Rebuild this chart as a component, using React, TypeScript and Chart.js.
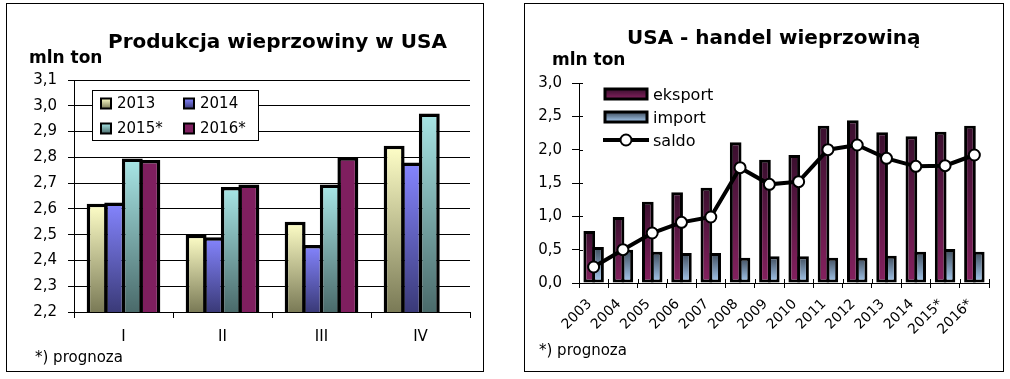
import React, { useEffect, useRef } from "react";
import { Chart, registerables } from "chart.js";
Chart.register(...registerables);

const FONT = "'DejaVu Sans', Tahoma, Verdana, sans-serif";

// ---- Left chart: Produkcja wieprzowiny w USA ----
const quarters = ["I", "II", "III", "IV"];
const prodSeriesLabels = ["2013", "2014", "2015*", "2016*"];
const prod2013 = [2.62, 2.5, 2.55, 2.845];
const prod2014 = [2.625, 2.49, 2.46, 2.78];
const prod2015 = [2.795, 2.685, 2.695, 2.97];
const prod2016: (number | null)[] = [2.79, 2.695, 2.8, null];
const prodTicks = [2.2, 2.3, 2.4, 2.5, 2.6, 2.7, 2.8, 2.9, 3.0, 3.1];

// ---- Right chart: USA - handel wieprzowiną ----
const years = ["2003", "2004", "2005", "2006", "2007", "2008", "2009", "2010", "2011", "2012", "2013", "2014", "2015*", "2016*"];
const tradeSeriesLabels = ["eksport", "import", "saldo"];
const eksport = [0.78, 0.99, 1.22, 1.36, 1.43, 2.11, 1.85, 1.92, 2.36, 2.44, 2.26, 2.2, 2.27, 2.36];
const importV = [0.54, 0.5, 0.47, 0.45, 0.45, 0.38, 0.4, 0.4, 0.38, 0.38, 0.41, 0.47, 0.51, 0.47];
const saldo = [0.24, 0.5, 0.75, 0.91, 0.99, 1.73, 1.48, 1.52, 2.0, 2.07, 1.87, 1.75, 1.76, 1.92];
const tradeTicks = [0, 0.5, 1.0, 1.5, 2.0, 2.5, 3.0];

const prodColors: [string, string][] = [
  ["#FFFFC8", "#7A7A56"],
  ["#8585FF", "#3A3A78"],
  ["#A8E6E6", "#4A6A6A"],
  ["#7F1F5F", "#7F1F5F"],
];
const eksColors: [string, string] = ["#3A0F2E", "#85215F"];
const impColors: [string, string] = ["#3E4C5C", "#A8CCF2"];

const fmt = (v: number) => v.toFixed(1).replace(".", ",");

function vGrad(top: string, bottom: string) {
  return (ctx: any) => {
    const chart = ctx.chart;
    if (!chart.chartArea || ctx.type !== "data") return bottom;
    const v = ctx.raw;
    if (v == null) return bottom;
    const ys = chart.scales.y;
    const yTop = ys.getPixelForValue(v);
    const yBot = ys.getPixelForValue(ys.min);
    if (!isFinite(yTop) || !isFinite(yBot) || yBot - yTop < 1) return bottom;
    const g = chart.ctx.createLinearGradient(0, yTop, 0, yBot);
    g.addColorStop(0, top);
    g.addColorStop(1, bottom);
    return g;
  };
}

const prodLegendPlugin = {
  id: "prodLegend",
  afterDraw(chart: any) {
    const c = chart.ctx;
    c.save();
    c.fillStyle = "#fff";
    c.fillRect(85.5, 86.5, 166, 50);
    c.strokeStyle = "#000";
    c.lineWidth = 1;
    c.strokeRect(85.5, 86.5, 166, 50);
    const cols = [94, 177];
    const rows = [99.5, 124.5];
    c.font = `15px ${FONT}`;
    c.textBaseline = "middle";
    c.textAlign = "left";
    chart.data.datasets.forEach((ds: any, i: number) => {
      const x = cols[i % 2];
      const y = rows[Math.floor(i / 2)];
      const g = c.createLinearGradient(0, y - 5, 0, y + 5);
      g.addColorStop(0, prodColors[i][0]);
      g.addColorStop(1, prodColors[i][1]);
      c.fillStyle = g;
      c.fillRect(x, y - 5, 10, 10);
      c.lineWidth = 2;
      c.strokeStyle = "#000";
      c.strokeRect(x, y - 5, 10, 10);
      c.fillStyle = "#000";
      c.fillText(ds.label, x + 16, y + 1);
    });
    c.restore();
  },
};

const tradeLegendPlugin = {
  id: "tradeLegend",
  afterDraw(chart: any) {
    const c = chart.ctx;
    c.save();
    const x0 = 80;
    const w = 42;
    const rows = [90, 113, 136];
    c.font = `16px ${FONT}`;
    c.textBaseline = "middle";
    c.textAlign = "left";
    const grads = [eksColors, impColors];
    chart.data.datasets.forEach((ds: any, i: number) => {
      const y = rows[i];
      if (i < 2) {
        const g = c.createLinearGradient(0, y - 5, 0, y + 5);
        g.addColorStop(0, grads[i][0]);
        g.addColorStop(1, grads[i][1]);
        c.fillStyle = g;
        c.fillRect(x0, y - 5, w, 10);
        c.lineWidth = 3;
        c.strokeStyle = "#000";
        c.strokeRect(x0, y - 5, w, 10);
      } else {
        c.lineWidth = 4;
        c.strokeStyle = "#000";
        c.beginPath();
        c.moveTo(x0 - 2, y);
        c.lineTo(x0 + w + 2, y);
        c.stroke();
        c.beginPath();
        c.arc(x0 + w / 2, y, 5.5, 0, Math.PI * 2);
        c.fillStyle = "#fff";
        c.fill();
        c.lineWidth = 2;
        c.stroke();
      }
      c.fillStyle = "#000";
      c.fillText(ds.label, x0 + w + 6, y + 2);
    });
    c.restore();
  },
};

const crossTickPlugin = {
  id: "crossTicks",
  beforeDatasetsDraw(chart: any) {
    const c = chart.ctx;
    const a = chart.chartArea;
    const xs = chart.scales.x;
    const ys = chart.scales.y;
    c.save();
    c.strokeStyle = "#000";
    c.lineWidth = 1;
    ys.ticks.forEach((_: any, i: number) => {
      const y = Math.round(ys.getPixelForTick(i)) + 0.5;
      c.beginPath();
      c.moveTo(a.left, y);
      c.lineTo(a.left + 4, y);
      c.stroke();
    });
    for (let i = 0; i <= chart.data.labels.length; i++) {
      const x = Math.round(xs.getPixelForValue(i - 0.5)) + 0.5;
      c.beginPath();
      c.moveTo(x, a.bottom - 4);
      c.lineTo(x, a.bottom);
      c.stroke();
    }
    c.restore();
  },
};

function ProdChart() {
  const ref = useRef<HTMLCanvasElement>(null);
  useEffect(() => {
    const series = [prod2013, prod2014, prod2015, prod2016];
    const chart = new Chart(ref.current!, {
      type: "bar",
      data: {
        labels: quarters,
        datasets: series.map((d, i) => ({
          label: prodSeriesLabels[i],
          data: d,
          backgroundColor: vGrad(prodColors[i][0], prodColors[i][1]),
          borderColor: "#000",
          borderWidth: 3.5,
          borderSkipped: false,
          categoryPercentage: 0.71,
          barPercentage: 1.19,
        })) as any,
      },
      options: {
        animation: false,
        responsive: false,
        events: [],
        layout: { padding: { top: 76, right: 13, left: 0, bottom: 0 } },
        plugins: { legend: { display: false }, tooltip: { enabled: false }, title: { display: false } },
        scales: {
          x: {
            afterFit: (s: any) => { s.height = 59; },
            grid: { display: true, drawOnChartArea: false, drawTicks: true, tickLength: 6, color: "#000", offset: true },
            border: { display: true, color: "#000", width: 1 },
            ticks: { color: "#000", font: { family: FONT, size: 15 }, maxRotation: 0, minRotation: 0, padding: 10, autoSkip: false },
          },
          y: {
            min: prodTicks[0],
            max: prodTicks[prodTicks.length - 1],
            afterFit: (s: any) => { s.width = 67; },
            afterBuildTicks: (s: any) => { s.ticks = prodTicks.map((v) => ({ value: v })); },
            grid: { display: true, color: "#000", lineWidth: 1, drawTicks: true, tickLength: 6 },
            border: { display: true, color: "#000", width: 1 },
            ticks: { color: "#000", font: { family: FONT, size: 15 }, padding: 11, callback: (v: any) => fmt(Number(v)) },
          },
        },
      },
      plugins: [prodLegendPlugin],
    });
    return () => chart.destroy();
  }, []);
  return <canvas ref={ref} width={476} height={367} style={{ display: "block" }} />;
}

function TradeChart() {
  const ref = useRef<HTMLCanvasElement>(null);
  useEffect(() => {
    const chart = new Chart(ref.current!, {
      type: "bar",
      data: {
        labels: years,
        datasets: [
          {
            type: "bar",
            label: tradeSeriesLabels[0],
            data: eksport,
            backgroundColor: vGrad(eksColors[0], eksColors[1]),
            borderColor: "#000",
            borderWidth: 3,
            borderSkipped: false,
            categoryPercentage: 0.6,
            barPercentage: 1.33,
            order: 1,
          },
          {
            type: "bar",
            label: tradeSeriesLabels[1],
            data: importV,
            backgroundColor: vGrad(impColors[0], impColors[1]),
            borderColor: "#000",
            borderWidth: 3,
            borderSkipped: false,
            categoryPercentage: 0.6,
            barPercentage: 1.33,
            order: 1,
          },
          {
            type: "line",
            label: tradeSeriesLabels[2],
            data: saldo,
            borderColor: "#000",
            borderWidth: 4,
            tension: 0,
            pointRadius: 5.5,
            pointBackgroundColor: "#fff",
            pointBorderColor: "#000",
            pointBorderWidth: 2,
            order: 0,
          },
        ] as any,
      },
      options: {
        animation: false,
        responsive: false,
        events: [],
        layout: { padding: { top: 79, right: 14, left: 0, bottom: 0 } },
        plugins: { legend: { display: false }, tooltip: { enabled: false }, title: { display: false } },
        scales: {
          x: {
            afterFit: (s: any) => { s.height = 88; },
            grid: { display: true, drawOnChartArea: false, drawTicks: true, tickLength: 5, color: "#000", offset: true },
            border: { display: true, color: "#000", width: 1 },
            ticks: { color: "#000", font: { family: FONT, size: 14 }, maxRotation: 45, minRotation: 45, padding: 8, labelOffset: -4, autoSkip: false },
          },
          y: {
            min: tradeTicks[0],
            max: tradeTicks[tradeTicks.length - 1],
            afterFit: (s: any) => { s.width = 54; },
            afterBuildTicks: (s: any) => { s.ticks = tradeTicks.map((v) => ({ value: v })); },
            grid: { display: true, drawOnChartArea: false, color: "#000", lineWidth: 1, drawTicks: true, tickLength: 7 },
            border: { display: true, color: "#000", width: 1 },
            ticks: { color: "#000", font: { family: FONT, size: 15 }, padding: 10, callback: (v: any) => fmt(Number(v)) },
          },
        },
      },
      plugins: [crossTickPlugin, tradeLegendPlugin],
    });
    return () => chart.destroy();
  }, []);
  return <canvas ref={ref} width={478} height={367} style={{ display: "block" }} />;
}

const txt = (left: number, baseline: number, size: number, bold: boolean, text: string) => (
  <div
    style={{
      position: "absolute",
      left,
      top: baseline - 0.846 * size,
      fontFamily: FONT,
      fontSize: size,
      lineHeight: `${size}px`,
      fontWeight: bold ? "bold" : "normal",
      whiteSpace: "nowrap",
      color: "#000",
    }}
  >
    {text}
  </div>
);

export default function App() {
  return (
    <div style={{ position: "absolute", left: 0, top: 0, width: 1010, height: 379, background: "#fff", overflow: "hidden" }}>
      <div style={{ position: "absolute", left: 6, top: 3, width: 476, height: 367, border: "1px solid #000", background: "#fff" }}>
        <ProdChart />
      </div>
      <div style={{ position: "absolute", left: 524, top: 3, width: 478, height: 367, border: "1px solid #000", background: "#fff" }}>
        <TradeChart />
      </div>
      {txt(108, 48, 20, true, "Produkcja wieprzowiny w USA")}
      {txt(29, 63.5, 17, true, "mln ton")}
      {txt(35, 363, 15, false, "*) prognoza")}
      {txt(627, 43.5, 20, true, "USA - handel wieprzowiną")}
      {txt(552, 65.5, 17, true, "mln ton")}
      {txt(539, 356, 15, false, "*) prognoza")}
    </div>
  );
}
